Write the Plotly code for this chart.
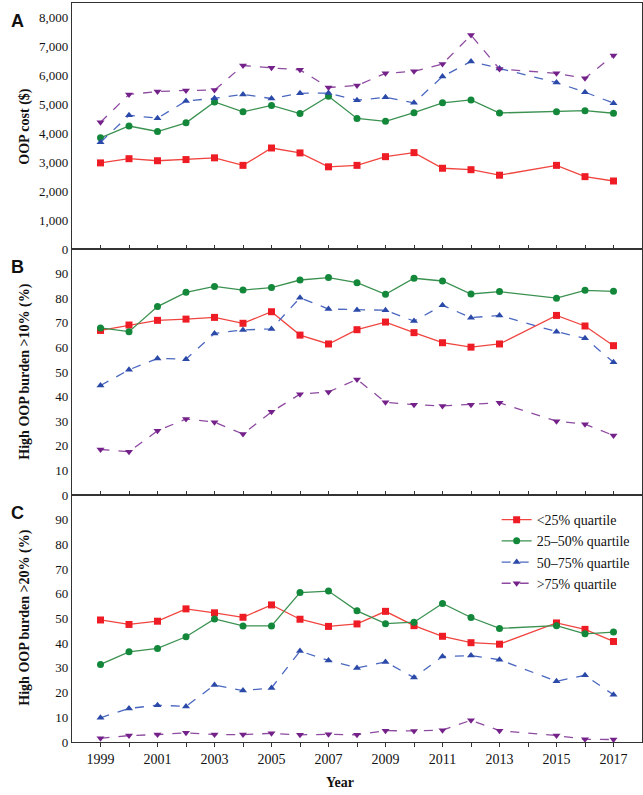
import plotly.graph_objects as go

years = [1999, 2000, 2001, 2002, 2003, 2004, 2005, 2006, 2007, 2008, 2009,
         2010, 2011, 2012, 2013, 2015, 2016, 2017]

# Panel A: OOP cost ($)
cost_q1 = [2975, 3120, 3050, 3090, 3150, 2890, 3490, 3320, 2840, 2890, 3190,
           3330, 2790, 2740, 2550, 2890, 2500, 2350]
cost_q2 = [3840, 4250, 4060, 4360, 5080, 4740, 4960, 4680, 5280, 4510, 4410,
           4710, 5050, 5150, 4700, 4740, 4780, 4690]
cost_q3 = [3690, 4620, 4520, 5110, 5210, 5340, 5200, 5380, 5390, 5140, 5240,
           5050, 5960, 6480, 6240, 5750, 5420, 5040]
cost_q4 = [4380, 5340, 5440, 5480, 5490, 6340, 6260, 6190, 5580, 5650, 6070,
           6140, 6390, 7390, 6220, 6070, 5900, 6690]

# Panel B: high OOP burden >10% (%)
b10_q1 = [66.9, 69.1, 71.0, 71.5, 72.2, 69.8, 74.5, 65.0, 61.4, 67.2, 70.3,
          66.0, 61.9, 60.1, 61.4, 73.0, 68.7, 60.7]
b10_q2 = [67.9, 66.4, 76.6, 82.4, 84.8, 83.3, 84.3, 87.4, 88.4, 86.3, 81.6,
          88.1, 87.0, 81.7, 82.7, 80.0, 83.2, 82.8]
b10_q3 = [44.5, 50.9, 55.5, 55.2, 65.7, 67.1, 67.5, 80.2, 75.6, 75.2, 75.1,
          70.7, 77.1, 72.1, 73.0, 66.4, 63.7, 54.0]
b10_q4 = [18.5, 17.6, 26.1, 30.9, 29.6, 24.8, 33.8, 41.0, 41.9, 47.0, 37.7,
          36.7, 36.2, 36.7, 37.5, 30.0, 28.8, 24.2]

# Panel C: high OOP burden >20% (%)
b20_q1 = [49.4, 47.6, 48.9, 53.9, 52.3, 50.5, 55.5, 49.7, 46.8, 47.8, 52.9,
          47.1, 42.8, 40.2, 39.6, 48.2, 45.6, 40.7]
b20_q2 = [31.4, 36.5, 37.9, 42.6, 49.8, 47.0, 47.0, 60.5, 61.1, 53.1, 47.9,
          48.5, 56.1, 50.4, 46.0, 47.1, 43.8, 44.5]
b20_q3 = [9.8, 13.6, 14.9, 14.4, 23.1, 20.8, 21.9, 36.8, 33.0, 30.0, 32.4,
          26.1, 34.6, 35.0, 33.3, 24.6, 27.0, 19.1]
b20_q4 = [1.5, 2.6, 3.0, 3.7, 3.0, 3.0, 3.5, 2.9, 3.1, 2.9, 4.6,
          4.5, 4.8, 8.8, 4.6, 2.6, 1.1, 1.0]

names = ["<25% quartile", "25\u201350% quartile", "50\u201375% quartile", ">75% quartile"]
line_colors = ["#f0453f", "#3a9150", "#4a67c0", "#8d4aa0"]
marker_colors = ["#ee1c25", "#13883a", "#2a49a8", "#74218a"]
symbols = ["square", "circle", "triangle-up", "triangle-down"]
dashes = ["solid", "solid", "dash", "dash"]

panels = [
    ("y", [cost_q1, cost_q2, cost_q3, cost_q4]),
    ("y2", [b10_q1, b10_q2, b10_q3, b10_q4]),
    ("y3", [b20_q1, b20_q2, b20_q3, b20_q4]),
]
xaxes = {"y": "x", "y2": "x2", "y3": "x3"}

fig = go.Figure()
for yax, series in panels:
    for i, vals in enumerate(series):
        fig.add_trace(go.Scatter(
            x=years, y=vals, name=names[i], mode="lines+markers",
            xaxis=xaxes[yax], yaxis=yax,
            line=dict(color=line_colors[i], width=1.3, dash=dashes[i]),
            marker=dict(symbol=symbols[i], size=7, color=marker_colors[i]),
            showlegend=(yax == "y3"),
        ))

serif = "Liberation Serif"
tickvals = list(range(1999, 2018))
ticktext = [str(y) if y % 2 == 1 else "" for y in tickvals]

def xax(domain_anchor, labels, ticks):
    return dict(
        domain=[0, 1], anchor=domain_anchor, range=[1998, 2018],
        tickvals=tickvals, ticktext=ticktext if labels else [""] * len(tickvals),
        showticklabels=labels, ticks=ticks, ticklen=4, tickcolor="#333",
        showline=True, linecolor="#333", linewidth=1.2, mirror=True,
        showgrid=False, zeroline=False, automargin=False,
        tickfont=dict(family=serif, size=14, color="#111"),
    )

def yax(domain, rng, tvals, fmt, xanchor):
    return dict(
        domain=domain, anchor=xanchor, range=rng, tickvals=tvals,
        tickformat=fmt, ticks="", showline=True, linecolor="#333",
        linewidth=1.2, mirror=True, showgrid=False, zeroline=False,
        automargin=False,
        tickfont=dict(family=serif, size=13, color="#111"),
    )

d = 246 / 739
fig.update_layout(
    width=643, height=795,
    margin=dict(l=72, r=1, t=3, b=53),
    paper_bgcolor="white", plot_bgcolor="white",
    xaxis=xax("y", False, "inside"),
    xaxis2=xax("y2", False, "inside"),
    xaxis3=xax("y3", True, "outside"),
    yaxis=yax([1 - d, 1], [0, 8500], list(range(0, 8001, 1000)), ",", "x"),
    yaxis2=yax([1 - 2 * d, 1 - d], [0, 100], list(range(0, 91, 10)), "d", "x2"),
    yaxis3=yax([0, 1 - 2 * d], [0, 100], list(range(0, 91, 10)), "d", "x3"),
    legend=dict(x=0.745, y=0.322, xanchor="left", yanchor="top",
                bgcolor="rgba(0,0,0,0)", tracegroupgap=0,
                font=dict(family=serif, size=14, color="#111"),
                itemwidth=30),
)

titles = ["OOP cost ($)", "High OOP burden >10% (%)", "High OOP burden >20% (%)"]
tops = [1.0, 1 - d, 1 - 2 * d]
for letter, py, title in zip("ABC", tops, titles):
    fig.add_annotation(
        text=f"<b>{letter}</b>", xref="paper", yref="paper",
        x=-0.11, y=py, xanchor="left", yanchor="top", yshift=-6,
        showarrow=False, font=dict(family="Liberation Sans", size=18, color="#111"),
    )
    # y-axis title, same x for all three panels
    fig.add_annotation(
        text=f"<b>{title}</b>", xref="paper", yref="paper",
        x=-0.083, y=py - d / 2, textangle=-90, showarrow=False,
        xanchor="center", yanchor="middle",
        font=dict(family=serif, size=14, color="#111"),
    )

fig.add_annotation(
    text="<b>Year</b>", xref="paper", yref="paper", x=0.47, y=0,
    yshift=-40, yanchor="middle", showarrow=False,
    font=dict(family=serif, size=14, color="#111"),
)

# drop the default page margin so the figure sits at the window's corner
fig.write_html("out.html", config={"displayModeBar": False},
               post_script="document.body.style.margin='0';")
